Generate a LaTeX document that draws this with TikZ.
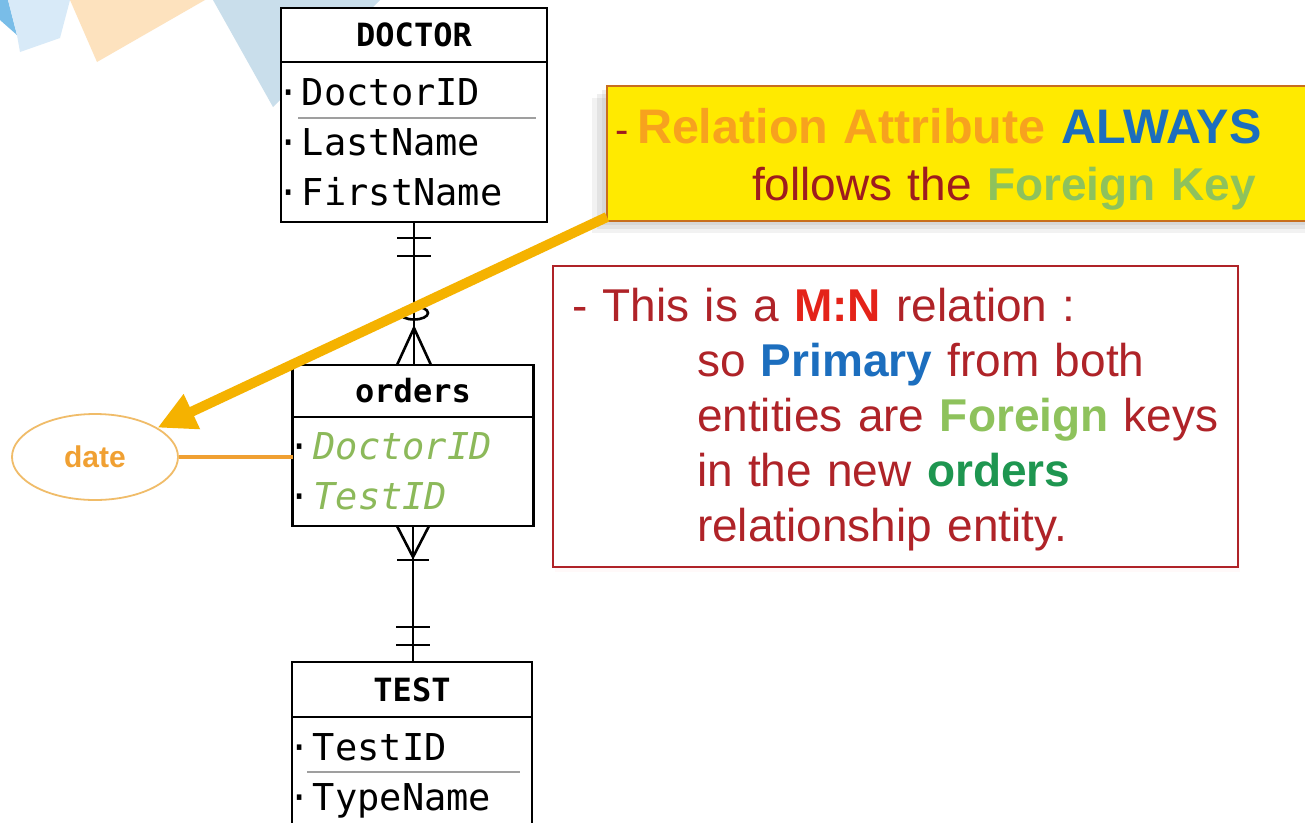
\documentclass[tikz,border=0pt]{standalone}
\usepackage{fontspec}
\setsansfont{Liberation Sans}
\setmonofont{DejaVu Sans Mono}
\usetikzlibrary{arrows.meta,positioning,calc,shapes.geometric,shadows}

\definecolor{amber}{RGB}{245,178,0}
\definecolor{dateorange}{RGB}{240,160,50}
\definecolor{datering}{RGB}{240,188,105}
\definecolor{fkgreen}{RGB}{140,185,90}
\definecolor{fklight}{RGB}{142,194,92}
\definecolor{hintyellow}{RGB}{255,234,0}
\definecolor{hintedge}{RGB}{200,110,30}
\definecolor{attrorange}{RGB}{247,162,30}
\definecolor{keyblue}{RGB}{28,110,190}
\definecolor{darkred}{RGB}{158,28,30}
\definecolor{notered}{RGB}{175,35,40}
\definecolor{mnred}{RGB}{228,35,25}
\definecolor{ordgreen}{RGB}{30,150,80}
\definecolor{bgsky}{RGB}{121,189,232}
\definecolor{bgpale}{RGB}{216,234,248}
\definecolor{bgpeach}{RGB}{253,226,190}
\definecolor{bgsteel}{RGB}{201,222,235}

% bullet in front of an attribute
\newcommand{\attrdot}{\makebox[20pt][l]{\kern-5pt·}}

\tikzset{
    enthead/.style={draw,line width=2.8pt,fill=white,inner sep=0pt,outer sep=0pt,
        font=\ttfamily\bfseries\fontsize{32}{32}\selectfont},
    entbody/.style={draw,line width=2.8pt,fill=white,inner xsep=1pt,inner ysep=0pt,outer sep=0pt,
        align=left,font=\ttfamily\fontsize{37}{50}\selectfont},
    rel/.style={line width=2.6pt},
    divider/.style={draw=gray!75,line width=1.3pt},
    attrib/.style={ellipse,draw=datering,line width=1.8pt,fill=white,inner sep=0pt,
        minimum width=166pt,minimum height=86pt,text=dateorange,
        font=\sffamily\bfseries\fontsize{30}{30}\selectfont},
    dateline/.style={draw=dateorange,line width=4.5pt},
    fkarrow/.style={draw=amber,line width=10pt,-{Triangle[length=38pt,width=36pt]}},
    hint/.style={draw=hintedge,line width=1.6pt,fill=hintyellow,outer sep=0pt,
        minimum width=720pt,minimum height=135pt,text width=704pt,inner xsep=8pt,
        align=left,text=darkred,font=\sffamily\fontsize{46}{57}\selectfont,
        drop shadow={shadow xshift=-5pt,shadow yshift=-4pt,opacity=.12},
        drop shadow={shadow xshift=-10pt,shadow yshift=-8pt,opacity=.12},
        drop shadow={shadow xshift=-15pt,shadow yshift=-12pt,opacity=.1}},
    note/.style={draw=notered,line width=1.5pt,fill=white,outer sep=0pt,
        minimum width=685pt,minimum height=301pt,text width=647pt,inner xsep=19pt,
        align=left,text=notered,font=\sffamily\fontsize{46}{55}\selectfont,
        drop shadow={shadow xshift=2pt,shadow yshift=-5pt,opacity=.05,fill=red!40}}
}

\begin{document}
\begin{tikzpicture}[x=1pt,y=-1pt]
\useasboundingbox (0,0) rectangle (1305,822);
\fill[white] (0,0) rectangle (1305,822);

% corner decoration
\fill[bgsky] (0,0) -- (8,0) -- (17,35) -- (0,20) -- cycle;
\fill[bgpale] (8,0) -- (70,0) -- (60,38) -- (20,52) -- (17,35) -- cycle;
\fill[bgpeach] (70,0) -- (205,0) -- (97,62) -- cycle;
\fill[bgsteel] (213,0) -- (380,0) -- (273,107) -- cycle;

% entities
\node[enthead,minimum width=266pt,minimum height=54pt] (dochead) at (414,35) {DOCTOR};
\node[entbody,text width=264pt,minimum height=160pt,below=0pt of dochead] (docbody)
    {\attrdot DoctorID\\\attrdot LastName\\\attrdot FirstName};

\node[enthead,minimum width=241pt,minimum height=52pt] (ordhead) at (413,391) {orders};
\node[entbody,text width=239pt,minimum height=109pt,below=0pt of ordhead] (ordbody)
    {\attrdot{\itshape\color{fkgreen}DoctorID}\\\attrdot{\itshape\color{fkgreen}TestID}};

\node[enthead,minimum width=240pt,minimum height=55pt] (testhead) at (412,689.5) {TEST};
\node[entbody,text width=238pt,minimum height=117.7pt,below=0pt of testhead] (testbody)
    {\attrdot TestID\\\attrdot TypeName};

\draw[divider] ($(docbody.north west)+(17,56)$) -- ($(docbody.north east)+(-11,56)$);
\draw[divider] ($(testbody.north west)+(15,55)$) -- ($(testbody.north east)+(-12,55)$);

% DOCTOR to orders
\draw[rel] (docbody.south) -- (docbody.south |- ordhead.north);
\draw[rel] ($(docbody.south)+(-17,16)$) -- ++(34,0);
\draw[rel] ($(docbody.south)+(-17,34)$) -- ++(34,0);
\draw[rel] ($(ordhead.north)+(1,-52)$) ellipse (14pt and 6.5pt);
\draw[rel] ($(ordhead.north)+(-16,0)$) -- ($(ordhead.north)+(1,-37)$) -- ($(ordhead.north)+(18,0)$);

% orders to TEST
\draw[rel] (ordbody.south) -- (ordbody.south |- testhead.north);
\draw[rel] ($(ordbody.south)+(-16,0)$) -- ($(ordbody.south)+(0,31)$) -- ($(ordbody.south)+(16,0)$);
\draw[rel] ($(ordbody.south)+(-16,34)$) -- ++(32,0);
\draw[rel] ($(testhead.north)+(-16,-35)$) -- ++(34,0);
\draw[rel] ($(testhead.north)+(-16,-17)$) -- ++(34,0);

% relation attribute
\node[attrib] (date) at (95,457) {date};
\draw[dateline] (date) -- (date -| ordbody.west);

% notes
\node[hint] (hint) at (967,153.5)
    {\rule{0pt}{46pt}\makebox[22pt][l]{\fontsize{40}{57}\selectfont -}{\fontsize{48.5}{57}\selectfont\bfseries
     {\color{attrorange}Relation Attribute} {\color{keyblue}ALWAYS}}\\
     \hspace*{137pt}follows the {\bfseries\color{fklight}Foreign Key}};
\node[note] (mnnote) at (895.5,416.5)
    {\rule{0pt}{40pt}- This is a {\bfseries\color{mnred}M:N} relation :\\
     \hspace*{125pt}so {\bfseries\color{keyblue}Primary} from both\\
     \hspace*{125pt}entities are {\bfseries\color{fklight}Foreign} keys\\
     \hspace*{125pt}in the new {\bfseries\color{ordgreen}orders}\\
     \hspace*{125pt}relationship entity.};

\draw[fkarrow] ($(hint.south west)+(0,-4)$) -- (date);

\end{tikzpicture}
\end{document}
